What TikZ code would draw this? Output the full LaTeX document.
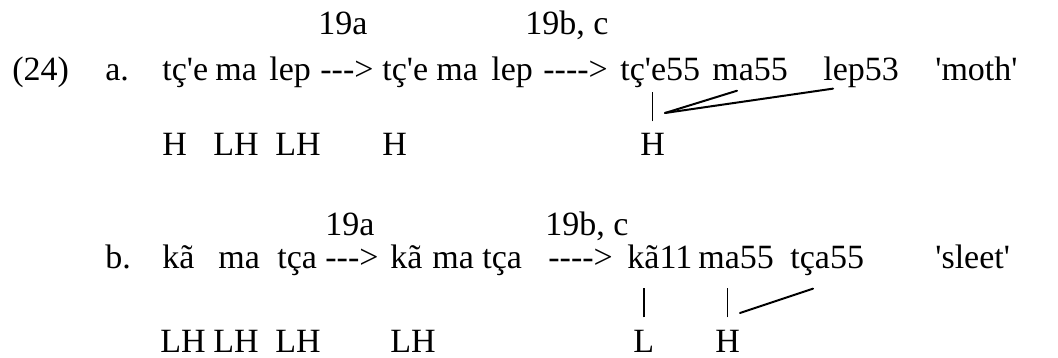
\documentclass[tikz,border=0pt]{standalone}
\usepackage{fontspec}
\setmainfont{Liberation Serif}
\usepackage{tikz}

\tikzset{
  syl/.style={anchor=base west, inner sep=0pt, font=\fontsize{17}{20}\selectfont},
  bar/.style={line width=0.75pt},
  assoc/.style={line width=1pt, line cap=round},
}
\newcommand{\darr}{-\kern0pt-\kern0pt->}
\newcommand{\darrr}{-\kern0pt-\kern0pt-\kern0pt->}

\begin{document}
\begin{tikzpicture}[x=0.5pt,y=-0.5pt]
  \useasboundingbox (0,0) rectangle (1058,358);

  % (24a)
  \node[syl] (num) at (12,81) {(24)};
  \node[syl] (la) at (105,81) {a.};
  \node[syl] (rula) at (318,35) {19a};
  \node[syl] (rulbc) at (525,35) {19b, c};

  \node[syl] (tcea) at (162,81) {tç\textquotesingle e};
  \node[syl] (maa) at (215,81) {ma};
  \node[syl] (lepa) at (269,81) {lep};
  \node[syl] (arra) at (320,81) {\darr};
  \node[syl] (tceb) at (382,81) {tç\textquotesingle e};
  \node[syl] (mab) at (436,81) {ma};
  \node[syl] (lepb) at (491,81) {lep};
  \node[syl] (arrb) at (543,81) {\darrr};
  \node[syl] (tcec) at (620,81) {tç\textquotesingle e55};
  \node[syl] (mac) at (712,81) {ma55};
  \node[syl] (lepc) at (823,81) {lep53};
  \node[syl] (gla) at (935,81) {\textquotesingle moth\textquotesingle};

  \node[syl] (ta1) at (162,155) {H};
  \node[syl] (ta2) at (213,155) {LH};
  \node[syl] (ta3) at (275,155) {LH};
  \node[syl] (ta4) at (382,155) {H};
  \node[syl] (ta5) at (640,155) {H};

  \draw[bar] ([yshift=5.5pt]ta5.north) -- ([yshift=20pt]ta5.north);
  \coordinate (ja) at (665,113);
  \draw[assoc] (ja) -- ([shift={(12.5pt,-4.5pt)}]mac.south west);
  \draw[assoc] (ja) -- ([xshift=5pt]lepc.south west);

  % (24b)
  \node[syl] (lb) at (105,268) {b.};
  \node[syl] (rulb) at (325,235) {19a};
  \node[syl] (rulbcb) at (545,235) {19b, c};

  \node[syl] (kaa) at (162,268) {kã};
  \node[syl] (mba) at (218,268) {ma};
  \node[syl] (tcaa) at (277,268) {tça};
  \node[syl] (arrc) at (325,268) {\darr};
  \node[syl] (kab) at (390,268) {kã};
  \node[syl] (mbb) at (432,268) {ma};
  \node[syl] (tcab) at (482,268) {tça};
  \node[syl] (arrd) at (548,268) {\darrr};
  \node[syl] (kac) at (627,268) {kã11};
  \node[syl] (mbc) at (698,268) {ma55};
  \node[syl] (tcac) at (790,268) {tça55};
  \node[syl] (glb) at (935,268) {\textquotesingle sleet\textquotesingle};

  \node[syl] (tb1) at (160,352) {LH};
  \node[syl] (tb2) at (213,352) {LH};
  \node[syl] (tb3) at (275,352) {LH};
  \node[syl] (tb4) at (390,352) {LH};
  \node[syl] (tb5) at (633,352) {L};
  \node[syl] (tb6) at (715,352) {H};

  \draw[bar] ([yshift=6pt]tb5.north) -- ([yshift=20.5pt]tb5.north);
  \draw[bar] ([yshift=6pt]tb6.north) -- ([yshift=20.5pt]tb6.north);
  \coordinate (jb) at (740,313);
  \draw[assoc] (jb) -- ([shift={(11.5pt,-6.5pt)}]tcac.south west);
\end{tikzpicture}
\end{document}
